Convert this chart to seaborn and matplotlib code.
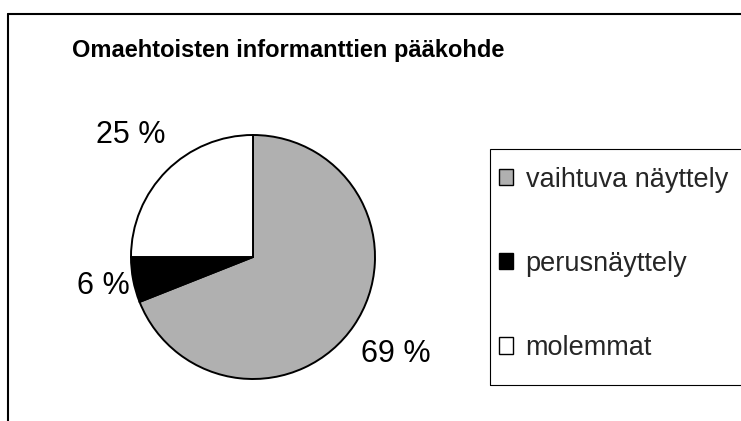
import numpy as np
import matplotlib
matplotlib.use('Agg')
import matplotlib.pyplot as plt
import seaborn as sns
from matplotlib.patches import Rectangle, Patch
from matplotlib.lines import Line2D

sns.set_theme(style='white')
plt.rcParams['font.family'] = ['Liberation Sans', 'DejaVu Sans']

title = 'Omaehtoisten informanttien pääkohde'
categories = ['vaihtuva näyttely', 'perusnäyttely', 'molemmat']
values = [69, 6, 25]
colors = ['#b0b0b0', '#000000', '#ffffff']
label_dist = [1.42, 1.25, 1.42]

W, H = 741, 421
fig = plt.figure(figsize=(W / 100, H / 100), dpi=100)

# pie axes: centre (253, 257) px, radius 122 px
cx, cy, r = 253, H - 257, 122
ax = fig.add_axes([(cx - r) / W, (cy - r) / H, 2 * r / W, 2 * r / H])
wedges, _ = ax.pie(values, colors=colors, startangle=90, counterclock=False,
                   wedgeprops=dict(edgecolor='black', linewidth=1.4))
ax.set_xlim(-1, 1)
ax.set_ylim(-1, 1)
ax.set_aspect('equal')
ax.axis('off')

for w, v, d in zip(wedges, values, label_dist):
    ang = np.deg2rad((w.theta1 + w.theta2) / 2)
    ax.text(d * np.cos(ang), d * np.sin(ang), f'{v} %', ha='center', va='center',
            fontsize=22, color='black', clip_on=False)

fig.text(288 / W, 1 - 57 / H, title, ha='center', va='baseline',
         fontsize=17, fontweight='bold', color='black')

# outer chart frame (cut off on right and bottom)
fig.add_artist(Line2D([8 / W, 1.0], [1 - 14 / H, 1 - 14 / H], transform=fig.transFigure,
                      color='black', linewidth=1.5))
fig.add_artist(Line2D([8 / W, 8 / W], [0, 1 - 14 / H], transform=fig.transFigure,
                      color='black', linewidth=1.5))

# legend box
fig.add_artist(Rectangle((490 / W, 1 - 385 / H), 1.0, (385 - 149) / H,
                         transform=fig.transFigure, fill=False,
                         edgecolor='black', linewidth=0.8))
handles = [Patch(facecolor=c, edgecolor='black', linewidth=1.0) for c in colors]
leg = fig.legend(handles, categories, loc='upper left',
                 bbox_to_anchor=(485 / W, 1 - 153 / H), frameon=False,
                 fontsize=19.5, handlelength=0.55, handleheight=0.55,
                 handletextpad=0.45, labelspacing=2.15, borderpad=0)

fig.savefig('out.png', dpi=100)
